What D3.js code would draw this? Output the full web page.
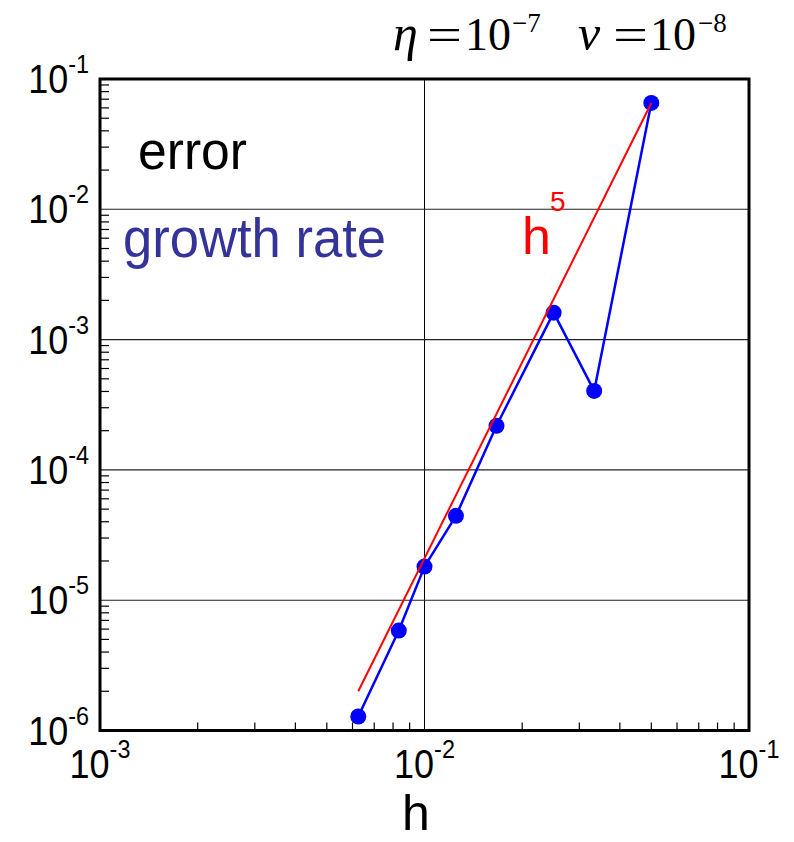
<!DOCTYPE html>
<html>
<head>
<meta charset="utf-8">
<script src="https://cdn.jsdelivr.net/npm/d3@7"></script>
<style>
  html, body { margin: 0; padding: 0; background: #fff; }
  svg { display: block; }
</style>
</head>
<body>
<svg id="chart" width="794" height="842"></svg>
<script>
// Grid spacing h and the measured growth-rate error at each resolution
const hValues = [0.00625, 0.008333, 0.01, 0.0125, 0.016667, 0.025, 0.033333, 0.05];
const growthError = [1.28e-6, 5.85e-6, 1.81e-5, 4.44e-5, 2.18e-4, 1.61e-3, 4.04e-4, 6.55e-2];

// Fifth-order reference slope, end points
const refH = [0.00625, 0.05];
const refError = [2.0e-6, 6.55e-2];

// Decade exponents for the tick labels
const xTickExps = [-3, -2, -1];
const yTickExps = [-1, -2, -3, -4, -5, -6];

const svg = d3.select("#chart");
const sans = "'Liberation Sans', Arial, Helvetica, sans-serif";
const serif = "'Liberation Serif', 'Times New Roman', serif";

const plot = { left: 100, right: 749, top: 79, bottom: 730.5 };

const x = d3.scaleLog().domain([1e-3, 1e-1]).range([plot.left, plot.right]);
const y = d3.scaleLog().domain([1e-6, 1e-1]).range([plot.bottom, plot.top]);

// Minor tick values 2..9 inside each decade
function minorTicks(lo, hi) {
  const out = [];
  for (let e = lo; e < hi; e++) {
    for (let m = 2; m <= 9; m++) out.push(m * Math.pow(10, e));
  }
  return out;
}

// Grid lines at the interior decades
const grid = svg.append("g");
grid.selectAll("line.gx")
  .data([1e-2])
  .join("line")
  .attr("x1", d => x(d)).attr("x2", d => x(d))
  .attr("y1", plot.top).attr("y2", plot.bottom)
  .attr("stroke", "#000").attr("stroke-width", 1);
grid.selectAll("line.gy")
  .data([1e-2, 1e-3, 1e-4, 1e-5])
  .join("line")
  .attr("x1", plot.left).attr("x2", plot.right)
  .attr("y1", d => y(d)).attr("y2", d => y(d))
  .attr("stroke", "#222").attr("stroke-width", 1.1);

// Inward minor ticks on the left and bottom axes
const ticks = svg.append("g").attr("stroke", "#000").attr("stroke-width", 1.2);
ticks.selectAll("line.mx")
  .data(minorTicks(-3, -1))
  .join("line")
  .attr("x1", d => x(d)).attr("x2", d => x(d))
  .attr("y1", plot.bottom).attr("y2", plot.bottom - 8);
ticks.selectAll("line.my")
  .data(minorTicks(-6, -1))
  .join("line")
  .attr("x1", plot.left).attr("x2", plot.left + 9)
  .attr("y1", d => y(d)).attr("y2", d => y(d));

// Growth-rate error curve with markers
const line = d3.line().x(d => x(d[0])).y(d => y(d[1]));
const pts = hValues.map((h, i) => [h, growthError[i]]);
svg.append("path")
  .attr("d", line(pts))
  .attr("fill", "none")
  .attr("stroke", "#0000ff")
  .attr("stroke-width", 2.5)
  .attr("stroke-linejoin", "round");
svg.append("g").selectAll("circle")
  .data(pts)
  .join("circle")
  .attr("cx", d => x(d[0])).attr("cy", d => y(d[1]))
  .attr("r", 8)
  .attr("fill", "#0000ff");

// h^5 reference line
svg.append("path")
  .attr("d", line(refH.map((h, i) => [h, refError[i]])))
  .attr("fill", "none")
  .attr("stroke", "#ff0000")
  .attr("stroke-width", 2);

// Plot frame
svg.append("rect")
  .attr("x", plot.left).attr("y", plot.top)
  .attr("width", plot.right - plot.left).attr("height", plot.bottom - plot.top)
  .attr("fill", "none").attr("stroke", "#000").attr("stroke-width", 3);

// Power-of-ten tick labels, slightly condensed
function powerLabel(g, exp, anchor, px, py) {
  const t = g.append("text")
    .attr("transform", `translate(${px},${py}) scale(0.9,1)`)
    .attr("font-family", sans)
    .attr("font-size", 40)
    .attr("fill", "#000")
    .attr("text-anchor", anchor);
  t.append("tspan").text("10");
  t.append("tspan").attr("font-size", 26).attr("dy", -20).text(String(exp));
  return t;
}
const xLabels = svg.append("g");
xTickExps.forEach(e => powerLabel(xLabels, e, "middle", x(Math.pow(10, e)), 778));
const yLabels = svg.append("g");
yTickExps.forEach(e => powerLabel(yLabels, e, "end", 89, y(Math.pow(10, e)) + 14));

// Axis title
svg.append("text")
  .attr("x", 416).attr("y", 830)
  .attr("text-anchor", "middle")
  .attr("font-family", sans).attr("font-size", 50)
  .text("h");

// In-plot annotations
svg.append("text")
  .attr("x", 138).attr("y", 169)
  .attr("font-family", sans).attr("font-size", 54)
  .attr("textLength", 109).attr("lengthAdjust", "spacingAndGlyphs")
  .attr("fill", "#000")
  .text("error");
svg.append("text")
  .attr("x", 123).attr("y", 257)
  .attr("font-family", sans).attr("font-size", 56)
  .attr("textLength", 263).attr("lengthAdjust", "spacingAndGlyphs")
  .attr("fill", "#333399")
  .text("growth rate");
svg.append("text")
  .attr("x", 522).attr("y", 254)
  .attr("font-family", sans).attr("font-size", 52)
  .attr("fill", "#ff0000")
  .text("h");
svg.append("text")
  .attr("x", 550).attr("y", 211)
  .attr("font-family", sans).attr("font-size", 28)
  .attr("fill", "#ff0000")
  .text("5");

// Parameter header
const head = svg.append("g").attr("font-family", serif).attr("font-size", 46).attr("fill", "#000");
head.append("text").attr("x", 393).attr("y", 50).attr("font-style", "italic").attr("font-size", 50).text("η");
head.append("text").attr("x", 427).attr("y", 50)
  .attr("textLength", 35).attr("lengthAdjust", "spacingAndGlyphs").text("=");
head.append("text").attr("x", 465).attr("y", 50).text("10");
head.append("text").attr("x", 512).attr("y", 32).attr("font-size", 27).text("−7");
head.append("text").attr("x", 578).attr("y", 50).attr("font-style", "italic").attr("font-size", 50).text("ν");
head.append("text").attr("x", 613).attr("y", 50)
  .attr("textLength", 35).attr("lengthAdjust", "spacingAndGlyphs").text("=");
head.append("text").attr("x", 650).attr("y", 50).text("10");
head.append("text").attr("x", 698).attr("y", 32).attr("font-size", 27).text("−8");
</script>
</body>
</html>
